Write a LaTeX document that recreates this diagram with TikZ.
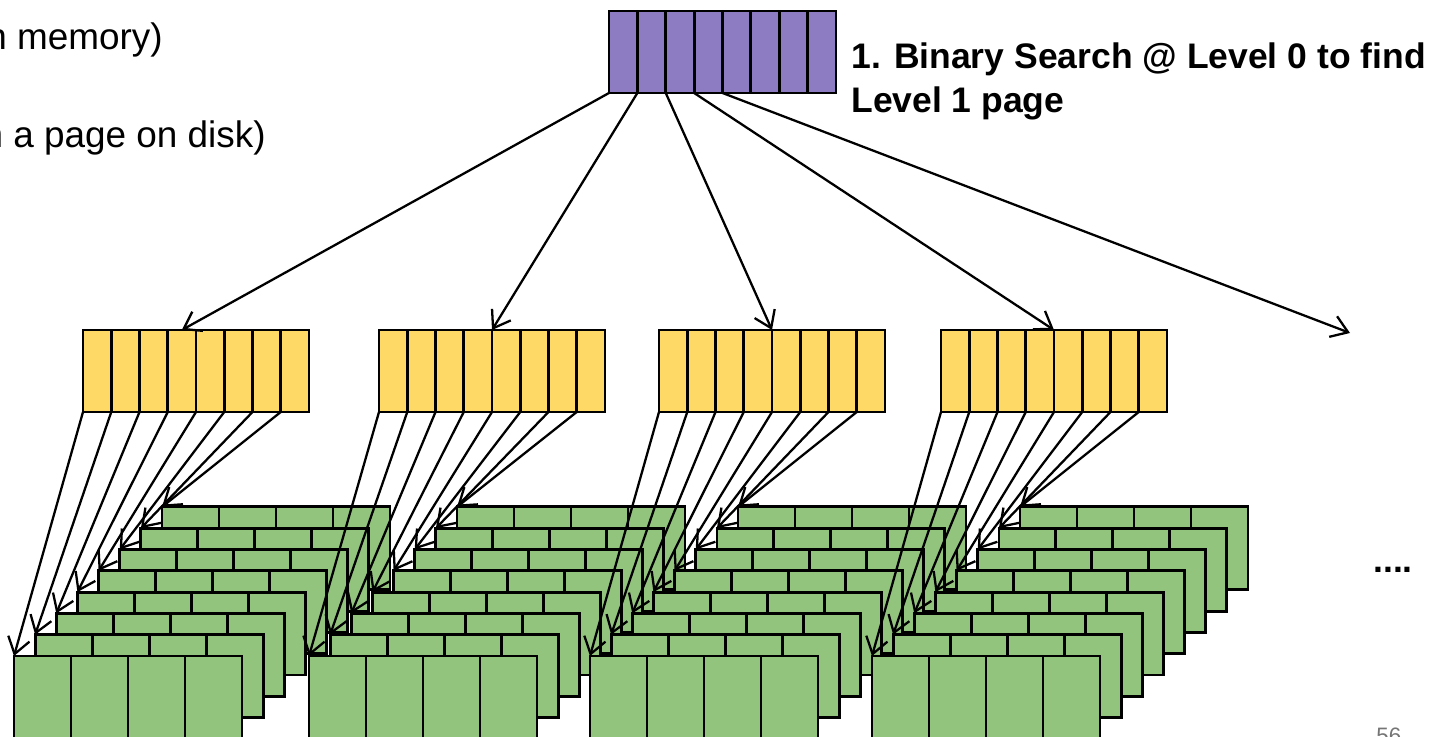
\documentclass[tikz,border=0pt]{standalone}
\usepackage{fontspec}
\setmainfont{Liberation Sans}
\usetikzlibrary{arrows.meta, positioning, calc}

\definecolor{rootpurple}{HTML}{8E7CC3}
\definecolor{inneryellow}{HTML}{FFD966}
\definecolor{leafgreen}{HTML}{93C47D}
\definecolor{pagegray}{HTML}{757575}

\begin{document}
\begin{tikzpicture}[
    x=0.02cm, y=-0.02cm,
    cell/.style={draw, line width=1.6pt, anchor=north west, inner sep=0pt, outer sep=0pt},
    rootcell/.style={cell, fill=rootpurple, minimum width=0.5675cm, minimum height=1.64cm},
    keycell/.style={cell, fill=inneryellow, minimum width=0.565cm, minimum height=1.64cm},
    leafcell/.style={cell, fill=leafgreen, minimum width=1.14cm, minimum height=1.66cm},
    ptr/.style={-{Straight Barb[length=0.32cm, width=0.44cm]}, line width=1.3pt},
    notetext/.style={inner sep=0pt, font=\fontsize{21}{25}\selectfont}
]
    \useasboundingbox (0,0) rectangle (1431,737);

    % Level 2: stacks of leaf pages (back to front)
    \foreach \s/\gx in {1/14, 2/309, 3/590, 4/872} {
        \foreach \l in {7,...,0} {
            \foreach \c in {0,...,3} {
                \node[leafcell] (g\s-\l-\c) at ({\gx+21.15*\l+57*\c}, {656-21.3*\l}) {};
            }
        }
    }

    % Level 1 pages
    \foreach \b/\yx in {1/83, 2/379, 3/659, 4/941} {
        \foreach \c in {0,...,7} {
            \node[keycell] (y\b-\c) at ({\yx+28.25*\c}, 330) {};
        }
    }

    % Level 0 page
    \foreach \c in {0,...,7} {
        \node[rootcell] (p\c) at ({609+28.375*\c}, 11) {};
    }

    % Left text (cut off)
    \node[notetext, anchor=base east] (memnote) at (163, 50) {n memory)};
    \node[notetext, anchor=base east] (disknote) at (266, 147) {n a page on disk)};

    % Step label
    \node[anchor=north west, align=left, inner sep=0pt, font=\fontsize{20.2}{25.5}\selectfont\bfseries] (step1) at (851, 42) {1. Binary Search @ Level 0 to find\\Level 1 page};

    \node[anchor=base west, inner sep=0pt, font=\fontsize{20.2}{24}\selectfont\bfseries] (etc) at (1373, 572) {....};
    \node[anchor=north west, inner sep=0pt, text=pagegray, font=\fontsize{12.7}{15}\selectfont] (pagenum) at (1376, 728) {56};

    % Level 0 -> Level 1
    \coordinate (more) at (1350, 333);
    \draw[ptr] (p0.south west) -- (y1-3.north);
    \draw[ptr] (p1.south west) -- (y2-4.north west);
    \draw[ptr] (p2.south west) -- (y3-4.north west);
    \draw[ptr] (p3.south west) -- (y4-4.north west);
    \draw[ptr] (p4.south west) -- (more);

    % Level 1 -> Level 2
    \foreach \b in {1,...,4} {
        \foreach \l in {0,...,7} {
            \draw[ptr] (y\b-\l.south west) -- (g\b-\l-0.north west);
        }
    }

\end{tikzpicture}
\end{document}
